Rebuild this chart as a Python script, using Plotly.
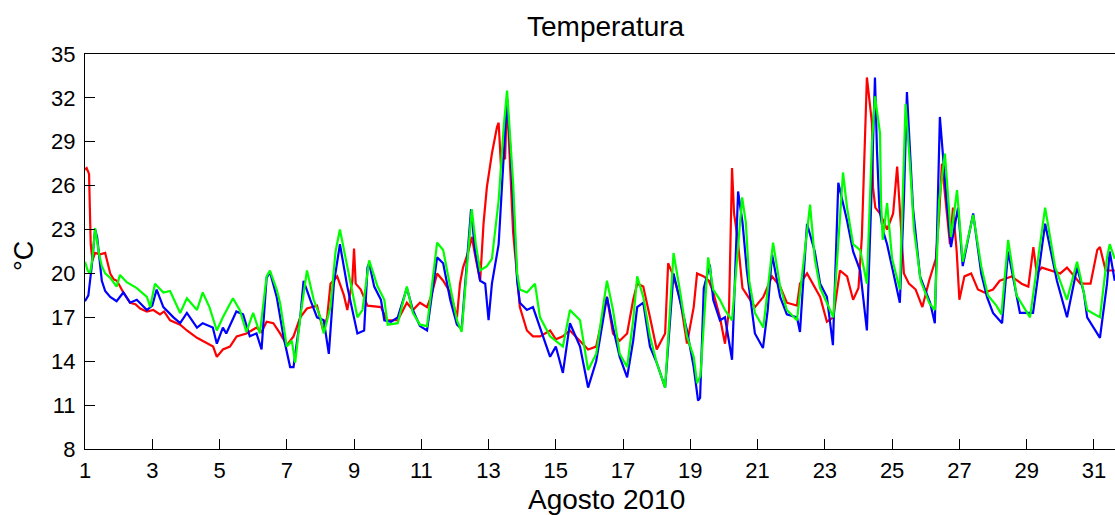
import plotly.graph_objects as go

# ---- data (day of August 2010, temperature °C) ----
red_day = [1.00, 1.05, 1.12, 1.17, 1.22, 1.30, 1.45, 1.60, 1.75, 1.85, 1.95, 2.14, 2.34, 2.50, 2.64, 2.84,
           3.03, 3.23, 3.35, 3.53, 3.83, 4.03, 4.33, 4.63, 4.81, 4.92, 5.10, 5.31, 5.51, 5.80, 6.10, 6.25,
           6.40, 6.60, 6.80, 7.00, 7.20, 7.40, 7.60, 7.90, 8.08, 8.20, 8.30, 8.50, 8.70, 8.80, 8.95, 9.00,
           9.05, 9.20, 9.40, 9.80, 9.98, 10.30, 10.57, 10.75, 10.96, 11.17, 11.30, 11.47, 11.65, 11.86,
           12.06, 12.15, 12.24, 12.40, 12.50, 12.62, 12.75, 12.85, 12.95, 13.10, 13.25, 13.30, 13.37,
           13.45, 13.49, 13.55, 13.64, 13.73, 13.85, 13.93, 14.14, 14.32, 14.53, 14.83, 15.00, 15.21,
           15.42, 15.72, 15.96, 16.20, 16.52, 16.70, 16.90, 17.12, 17.30, 17.42, 17.60, 17.80, 18.00,
           18.25, 18.34, 18.50, 18.70, 18.90, 19.10, 19.20, 19.40, 19.55, 19.68, 19.88, 20.03, 20.15,
           20.24, 20.30, 20.40, 20.55, 20.70, 20.92, 21.17, 21.43, 21.67, 21.87, 22.17, 22.26, 22.47,
           22.70, 22.86, 23.06, 23.25, 23.45, 23.66, 23.84, 24.00, 24.10, 24.18, 24.25, 24.40, 24.43,
           24.50, 24.64, 24.85, 25.03, 25.15, 25.23, 25.35, 25.50, 25.70, 25.90, 26.10, 26.30, 26.40,
           26.48, 26.58, 26.72, 26.81, 26.92, 27.00, 27.15, 27.35, 27.55, 27.75, 28.00, 28.20, 28.55,
           28.85, 29.05, 29.20, 29.30, 29.45, 29.70, 30.00, 30.20, 30.60, 30.90, 31.10, 31.18, 31.35, 31.62]
red_temp = [27.1, 27.2, 26.8, 22.0, 20.9, 21.4, 21.3, 21.4, 20.0, 19.6, 19.5, 18.7, 18.0, 17.9, 17.6, 17.4,
            17.5, 17.2, 17.4, 16.8, 16.5, 16.1, 15.6, 15.2, 15.0, 14.3, 14.8, 15.0, 15.7, 15.9, 16.3, 16.0,
            16.7, 16.6, 15.9, 15.1, 15.7, 17.0, 17.6, 17.8, 16.1, 17.0, 19.3, 19.8, 18.5, 17.5, 19.5, 21.7,
            19.3, 18.9, 17.8, 17.7, 16.8, 16.8, 18.0, 17.5, 18.0, 17.7, 18.5, 20.0, 19.5, 18.7,
            17.0, 19.3, 20.4, 21.5, 22.5, 21.0, 19.5, 23.4, 25.9, 28.2, 30.0, 30.3, 27.3,
            28.0, 27.8, 31.9, 27.3, 22.8, 19.8, 17.7, 16.1, 15.7, 15.7, 16.1, 15.5, 15.7,
            16.1, 15.4, 14.8, 15.0, 18.4, 15.9, 15.4, 15.9, 18.2, 19.3, 19.1, 17.0, 14.8,
            15.9, 20.7, 19.8, 18.2, 15.2, 17.7, 20.0, 19.8, 19.5, 18.7, 17.0, 15.2, 17.5,
            27.2, 24.1, 22.5, 19.0, 18.5, 17.7, 18.4, 19.8, 19.1, 18.0, 17.8, 19.3, 20.0,
            19.0, 18.4, 16.7, 17.0, 20.2, 19.8, 18.2, 19.0, 22.5, 29.0, 33.4, 30.3, 25.9,
            24.5, 24.1, 23.0, 24.1, 27.3, 24.5, 20.0, 19.3, 18.9, 17.7, 19.5, 21.0, 24.0,
            27.5, 25.0, 22.0, 24.5, 21.5, 18.2, 19.8, 20.0, 18.9, 18.7, 18.9, 19.5, 19.8,
            19.3, 19.1, 21.8, 20.0, 20.4, 20.2, 20.0, 20.4, 19.3, 19.3, 21.6, 21.8, 20.2, 20.2]

blue_day = [1.00, 1.10, 1.20, 1.30, 1.36, 1.42, 1.50, 1.60, 1.75, 1.94, 2.14, 2.34, 2.54, 2.84, 3.00, 3.13,
            3.33, 3.63, 3.83, 4.03, 4.33, 4.50, 4.80, 4.92, 5.10, 5.20, 5.50, 5.70, 5.90, 6.10, 6.25, 6.40,
            6.50, 6.70, 6.90, 7.10, 7.20, 7.40, 7.50, 7.70, 7.90, 8.10, 8.25, 8.40, 8.58, 8.80, 9.00, 9.10,
            9.30, 9.40, 9.45, 9.60, 9.80, 9.90, 10.10, 10.30, 10.57, 10.75, 10.96, 11.17, 11.47, 11.65,
            11.86, 12.06, 12.20, 12.48, 12.60, 12.75, 12.90, 13.00, 13.10, 13.30, 13.45, 13.55, 13.65,
            13.75, 13.85, 13.93, 14.14, 14.32, 14.53, 14.83, 15.00, 15.21, 15.42, 15.72, 15.96, 16.20,
            16.52, 16.70, 16.90, 17.12, 17.30, 17.42, 17.60, 17.80, 18.00, 18.25, 18.50, 18.70, 18.90,
            19.10, 19.23, 19.29, 19.40, 19.58, 19.68, 19.88, 20.03, 20.24, 20.35, 20.42, 20.55, 20.68,
            20.92, 21.16, 21.30, 21.43, 21.67, 21.87, 22.17, 22.26, 22.47, 22.70, 22.86, 23.06, 23.24,
            23.40, 23.66, 23.84, 24.05, 24.25, 24.38, 24.49, 24.55, 24.62, 24.72, 24.85, 25.23, 25.35,
            25.44, 25.53, 25.62, 25.83, 26.13, 26.27, 26.42, 26.62, 26.75, 26.96, 27.10, 27.41, 27.65,
            27.82, 28.00, 28.27, 28.45, 28.80, 29.19, 29.55, 29.90, 30.20, 30.50, 30.70, 30.80, 31.18,
            31.39, 31.47, 31.62]
blue_temp = [18.1, 18.5, 20.5, 23.0, 22.5, 21.0, 19.5, 18.8, 18.4, 18.1, 18.7, 18.0, 18.2, 17.5, 17.8, 18.9,
             17.7, 17.0, 16.6, 17.3, 16.3, 16.6, 16.3, 15.2, 16.3, 15.9, 17.4, 17.2, 15.7, 15.9, 14.8, 19.7,
             20.1, 18.4, 15.7, 13.6, 13.6, 17.0, 19.5, 18.2, 17.0, 16.8, 14.5, 19.3, 22.0, 19.1, 17.0, 15.9,
             16.1, 20.4, 20.7, 19.1, 18.2, 16.8, 16.7, 17.0, 19.0, 17.5, 16.4, 16.1, 21.1, 20.7,
             18.2, 16.5, 16.2, 24.4, 21.5, 19.5, 19.3, 16.8, 19.3, 22.0, 28.0, 31.9, 28.5,
             24.0, 19.5, 18.0, 17.5, 17.7, 16.3, 14.3, 15.0, 13.2, 16.6, 15.0, 12.2, 14.0,
             18.4, 16.3, 14.3, 12.9, 15.4, 17.7, 18.0, 15.0, 13.9, 12.2, 20.0, 18.0, 16.1,
             13.6, 11.3, 11.5, 19.0, 20.6, 18.2, 16.8, 17.0, 14.1, 22.0, 25.6, 23.5, 20.2,
             15.9, 14.9, 17.5, 21.3, 18.4, 17.2, 17.0, 16.0, 23.4, 21.5, 19.3, 18.4, 15.1,
             26.2, 23.6, 21.5, 20.2, 16.1, 25.0, 33.4, 28.4, 24.5, 23.0, 22.0, 18.0, 25.0,
             32.4, 28.4, 24.5, 19.8, 18.0, 16.6, 30.7, 25.0, 21.8, 24.5, 20.5, 24.1, 20.0,
             18.4, 17.3, 16.6, 21.5, 17.3, 17.3, 23.4, 19.5, 17.0, 20.4, 18.7, 17.0, 15.6,
             19.3, 21.5, 19.5]

green_day = [1.00, 1.08, 1.15, 1.22, 1.30, 1.36, 1.42, 1.50, 1.60, 1.75, 1.94, 2.04, 2.24, 2.54, 2.84, 2.94,
             3.08, 3.33, 3.53, 3.83, 4.03, 4.33, 4.50, 4.70, 4.92, 5.10, 5.40, 5.60, 5.80, 6.00, 6.20, 6.40,
             6.50, 6.70, 6.80, 7.00, 7.15, 7.25, 7.40, 7.60, 7.80, 8.00, 8.10, 8.30, 8.45, 8.58, 8.75, 8.90,
             9.10, 9.25, 9.45, 9.70, 9.90, 10.00, 10.30, 10.57, 10.75, 10.96, 11.17, 11.47, 11.65, 11.86,
             12.06, 12.20, 12.35, 12.50, 12.62, 12.75, 12.95, 13.10, 13.30, 13.45, 13.55, 13.65, 13.73,
             13.85, 13.93, 14.14, 14.38, 14.53, 14.83, 15.21, 15.42, 15.72, 15.96, 16.20, 16.52, 16.70,
             16.90, 17.12, 17.30, 17.42, 17.60, 17.80, 18.00, 18.25, 18.50, 18.70, 18.90, 19.10, 19.20,
             19.30, 19.53, 19.68, 19.88, 20.03, 20.24, 20.54, 20.65, 20.75, 20.92, 21.17, 21.46, 21.67,
             21.87, 22.17, 22.56, 22.70, 22.86, 23.06, 23.25, 23.54, 23.66, 23.84, 24.05, 24.25, 24.40,
             24.49, 24.64, 24.67, 24.72, 24.85, 25.00, 25.23, 25.40, 25.53, 25.65, 25.85, 26.10, 26.27,
             26.40, 26.57, 26.75, 26.93, 27.10, 27.41, 27.65, 27.85, 28.10, 28.25, 28.45, 28.70, 29.10,
             29.55, 29.85, 30.20, 30.50, 30.70, 30.80, 31.18, 31.39, 31.47, 31.62]
green_temp = [20.8, 20.2, 20.0, 21.0, 23.1, 22.0, 21.3, 20.5, 20.0, 19.7, 19.1, 19.9, 19.4, 19.0, 18.4, 17.7,
              19.3, 18.7, 18.8, 17.3, 18.3, 17.5, 18.7, 17.7, 16.1, 17.0, 18.3, 17.5, 16.0, 17.3, 15.9, 19.8,
              20.2, 18.9, 18.0, 15.0, 15.4, 13.9, 17.0, 20.2, 18.2, 17.0, 15.9, 17.7, 21.5, 23.0, 21.0, 19.3,
              17.0, 17.5, 20.9, 19.1, 18.2, 16.5, 16.6, 19.1, 17.3, 16.5, 16.4, 22.1, 21.6, 19.1,
              16.8, 16.0, 20.0, 24.4, 22.0, 20.2, 20.5, 21.0, 25.0, 30.0, 32.5, 29.0, 26.2,
              20.0, 18.9, 18.7, 19.3, 17.0, 15.7, 15.0, 17.5, 16.8, 13.4, 14.5, 19.5, 17.5,
              14.5, 13.6, 16.8, 19.8, 18.4, 15.7, 13.9, 12.2, 21.4, 18.7, 15.7, 14.3, 12.5,
              13.0, 21.1, 18.9, 18.2, 17.5, 16.8, 25.2, 23.5, 19.5, 17.3, 16.3, 22.1, 19.1,
              17.5, 16.8, 24.7, 21.0, 19.0, 18.0, 17.0, 26.9, 24.5, 22.0, 21.6, 19.3, 28.9,
              32.1, 29.6, 25.0, 22.3, 24.8, 21.0, 18.9, 31.6, 27.5, 23.0, 19.5, 18.0, 17.5,
              25.0, 28.2, 22.5, 25.7, 20.8, 24.0, 20.5, 18.5, 17.8, 17.2, 22.3, 18.5, 17.0,
              24.5, 20.4, 18.2, 20.8, 18.7, 17.5, 17.0, 21.1, 22.0, 21.0]

x_tickvals = list(range(1, 32, 2))
y_tickvals = [8, 11, 14, 17, 20, 23, 26, 29, 32, 35]

# ---- figure ----
W, H = 1115, 515
L, R, T, B = 85, 0, 54, 66
fig = go.Figure()
for xs, ys, col in [(red_day, red_temp, "#ff0000"),
                    (blue_day, blue_temp, "#0000ff"),
                    (green_day, green_temp, "#00ff00")]:
    fig.add_trace(go.Scatter(x=xs, y=ys, mode="lines",
                             line=dict(color=col, width=2.2), showlegend=False))

font = "Liberation Sans, Arial, sans-serif"
fig.update_layout(
    width=W, height=H,
    margin=dict(l=L, r=R, t=T, b=B),
    paper_bgcolor="white", plot_bgcolor="white",
    font=dict(family=font, color="black"),
    xaxis=dict(range=[1, 1 + 1030 / 33.63], tickvals=x_tickvals, ticks="inside",
               ticklen=10, tickwidth=1, tickcolor="black", showgrid=False, zeroline=False,
               showline=True, linecolor="black", linewidth=1, mirror=True,
               tickfont=dict(size=22, family=font), ticklabelstandoff=2),
    yaxis=dict(range=[8, 35], tickvals=y_tickvals, ticks="inside",
               ticklen=10, tickwidth=1, tickcolor="black", showgrid=False, zeroline=False,
               showline=True, linecolor="black", linewidth=1,
               tickfont=dict(size=22, family=font), ticklabelstandoff=4),
)

def px_x(p):
    return (p - L) / (W - L - R)

def px_y(p):
    return (H - B - p) / (H - T - B)

fig.add_annotation(text="Temperatura", x=px_x(606), y=px_y(26), xref="paper", yref="paper",
                   showarrow=False, font=dict(size=28, family=font), xanchor="center", yanchor="middle")
fig.add_annotation(text="Agosto 2010", x=px_x(606), y=px_y(499), xref="paper", yref="paper",
                   showarrow=False, font=dict(size=28, family=font), xanchor="center", yanchor="middle")
fig.add_annotation(text="°C", x=px_x(24), y=px_y(256), xref="paper", yref="paper", textangle=-90,
                   showarrow=False, font=dict(size=27, family=font), xanchor="center", yanchor="middle")

fig.write_html("out.html")
